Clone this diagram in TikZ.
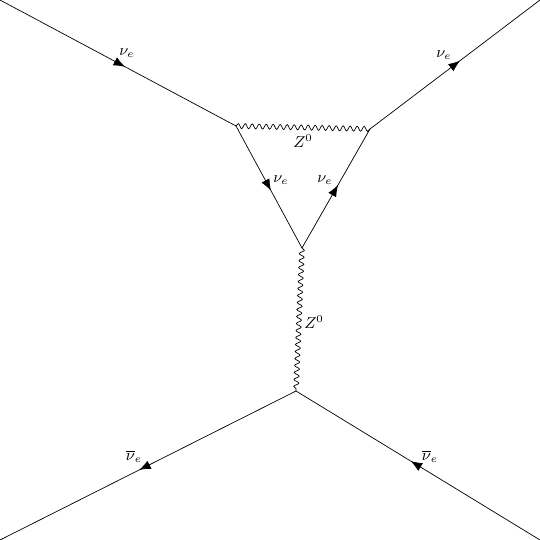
\documentclass[tikz,border=0pt]{standalone}
\usetikzlibrary{decorations.markings,decorations.pathmorphing,arrows.meta}
\begin{document}
\begin{tikzpicture}[
			x=0.02cm, y=-0.02cm,
			fermion/.style={draw, postaction={decorate}, decoration={markings, mark=at position 0.53 with {\arrow{Latex[length=2.3mm,width=1.8mm]}}}},
			boson/.style={draw, decorate, decoration={snake, amplitude=0.5mm, segment length=1.4mm}},
			lbl/.style={inner sep=1pt, font=\small}
		]
		\useasboundingbox (0,0) rectangle (540,540);
		% vertices
		\coordinate (inL) at (0,0);
		\coordinate (outR) at (540,0);
		\coordinate (v1) at (236,126);
		\coordinate (v2) at (370,129);
		\coordinate (v3) at (302,248);
		\coordinate (v4) at (296,391);
		\coordinate (botL) at (0,540);
		\coordinate (botR) at (540,540);

		% external neutrinos
		\draw[fermion] (inL) -- (v1);
		\draw[fermion] (v2) -- (outR);
		\node[lbl] (n1) at (127,53) {$\nu_e$};
		\node[lbl] (n2) at (444,55) {$\nu_e$};

		% loop
		\draw[boson] (v1) -- (v2);
		\draw[fermion] (v1) -- (v3);
		\draw[fermion] (v3) -- (v2);
		\node[lbl] (z1) at (303,141) {$Z^0$};
		\node[lbl] (n3) at (281,180) {$\nu_e$};
		\node[lbl] (n4) at (325,180) {$\nu_e$};

		% propagator
		\draw[boson] (v3) -- (v4);
		\node[lbl] (z2) at (314,322) {$Z^0$};

		% antineutrinos
		\draw[fermion] (v4) -- (botL);
		\draw[fermion] (botR) -- (v4);
		\node[lbl] (a1) at (134,456) {$\overline{\nu}_e$};
		\node[lbl] (a2) at (430,456) {$\overline{\nu}_e$};

	\end{tikzpicture}
\end{document}
